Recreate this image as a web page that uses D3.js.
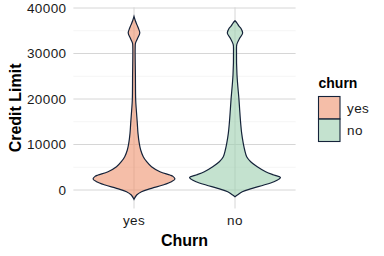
<!DOCTYPE html>
<html>
<head>
<meta charset="utf-8">
<script src="https://cdn.jsdelivr.net/npm/d3@7"></script>
<style>
  body { margin: 0; background: #fff; }
  text { font-family: "Liberation Sans", Arial, sans-serif; }
</style>
</head>
<body>
<div id="chart"></div>
<script>
// Churn groups, in axis order
const groups = ["yes", "no"];

// Violin outlines: credit limit vs relative density
const yesLimit   = [-2050, -1100, -370, 370, 1100, 1830, 2420, 3000, 3300, 4030, 5120, 6220, 7320, 8800, 10250, 12450, 14650, 17600, 19800, 25300, 31200, 32300, 33300, 34500, 35500, 36300, 37300, 38150];
const yesDensity = [0, .059, .165, .385, .637, .824, .901, .857, .791, .571, .385, .279, .204, .147, .116, .088, .073, .051, .037, .031, .026, .033, .077, .127, .099, .066, .026, 0];

const noLimit   = [-1470, -1100, -370, 370, 1100, 1830, 2400, 2790, 3300, 4030, 5120, 6220, 7320, 8800, 10250, 12450, 14650, 17600, 19800, 25300, 30500, 32000, 33300, 34500, 35500, 36000, 36700, 37200];
const noDensity = [0, .051, .160, .380, .637, .857, .967, 1, .857, .675, .490, .345, .257, .213, .182, .147, .125, .103, .088, .044, .033, .040, .099, .169, .132, .088, .044, 0];

const yTicks = [0, 10000, 20000, 30000, 40000];
const yMinor = [5000, 15000, 25000, 35000];

const fills = { yes: "#ee936e", no: "#9dcfaf" };
const outline = "#15233a";

const W = 384, H = 256;
const panel = { left: 73.4, right: 295.6, top: 7.3, bottom: 208.5 };

const svg = d3.select("#chart").append("svg")
    .attr("width", W).attr("height", H)
    .style("display", "block");

const x = d3.scalePoint()
    .domain(groups)
    .range([panel.left, panel.right])
    .padding(0.6);

const y = d3.scaleLinear()
    .domain([-4060, 40160])
    .range([panel.bottom, panel.top]);

const violins = [
    { key: "yes", pts: yesLimit.map((v, i) => ({ v, d: yesDensity[i] })) },
    { key: "no",  pts: noLimit.map((v, i) => ({ v, d: noDensity[i] })) }
];

const maxD = d3.max(violins, g => d3.max(g.pts, p => p.d));
const w = d3.scaleLinear().domain([0, maxD]).range([0, x.step() * 0.45]);

// grid
const grid = svg.append("g");
grid.selectAll(".minor").data(yMinor).join("line")
    .attr("x1", panel.left).attr("x2", panel.right)
    .attr("y1", d => y(d)).attr("y2", d => y(d))
    .attr("stroke", "#ededed").attr("stroke-width", 0.6);
grid.selectAll(".major").data(yTicks).join("line")
    .attr("x1", panel.left).attr("x2", panel.right)
    .attr("y1", d => y(d)).attr("y2", d => y(d))
    .attr("stroke", "#d6d6d6").attr("stroke-width", 1);
grid.selectAll(".vmajor").data(groups).join("line")
    .attr("x1", d => x(d)).attr("x2", d => x(d))
    .attr("y1", panel.top).attr("y2", panel.bottom)
    .attr("stroke", "#d6d6d6").attr("stroke-width", 1);

// violins
const area = d3.area()
    .y(p => y(p.v))
    .curve(d3.curveCatmullRom.alpha(0.5));

svg.append("g").selectAll("path").data(violins).join("path")
    .attr("d", g => area
        .x0(p => x(g.key) - w(p.d))
        .x1(p => x(g.key) + w(p.d))(g.pts))
    .attr("fill", g => fills[g.key])
    .attr("fill-opacity", 0.6)
    .attr("stroke", outline)
    .attr("stroke-width", 1.2);

// axes text
const tickStyle = s => s.attr("font-size", 13.5).attr("letter-spacing", 0.4).attr("fill", "#1a1a1a");

svg.append("g").selectAll("text").data(yTicks).join("text")
    .attr("x", 66.5).attr("y", d => y(d)).attr("dy", "0.36em")
    .attr("text-anchor", "end")
    .call(tickStyle)
    .text(d => d);

svg.append("g").selectAll("text").data(groups).join("text")
    .attr("x", d => x(d)).attr("y", 224.5)
    .attr("text-anchor", "middle")
    .call(tickStyle)
    .text(d => d);

svg.append("text")
    .attr("x", (panel.left + panel.right) / 2).attr("y", 246)
    .attr("text-anchor", "middle")
    .attr("font-size", 16).attr("font-weight", "bold").attr("fill", "#000")
    .text("Churn");

svg.append("text")
    .attr("transform", `translate(20.5,${(panel.top + panel.bottom) / 2}) rotate(-90)`)
    .attr("text-anchor", "middle")
    .attr("font-size", 16).attr("font-weight", "bold").attr("fill", "#000")
    .text("Credit Limit");

// legend
const legend = svg.append("g").attr("transform", "translate(318.5,0)");
legend.append("text")
    .attr("x", 0).attr("y", 88)
    .attr("font-size", 14).attr("font-weight", "bold").attr("fill", "#000")
    .text("churn");

const keys = legend.selectAll(".key").data(groups).join("g")
    .attr("transform", (d, i) => `translate(0,${96.5 + i * 22.5})`);
keys.append("rect")
    .attr("width", 21.5).attr("height", 22.5)
    .attr("fill", d => fills[d]).attr("fill-opacity", 0.6)
    .attr("stroke", outline).attr("stroke-width", 1.1);
keys.append("text")
    .attr("x", 28.5).attr("y", 11.25).attr("dy", "0.36em")
    .call(tickStyle)
    .text(d => d);
</script>
</body>
</html>
